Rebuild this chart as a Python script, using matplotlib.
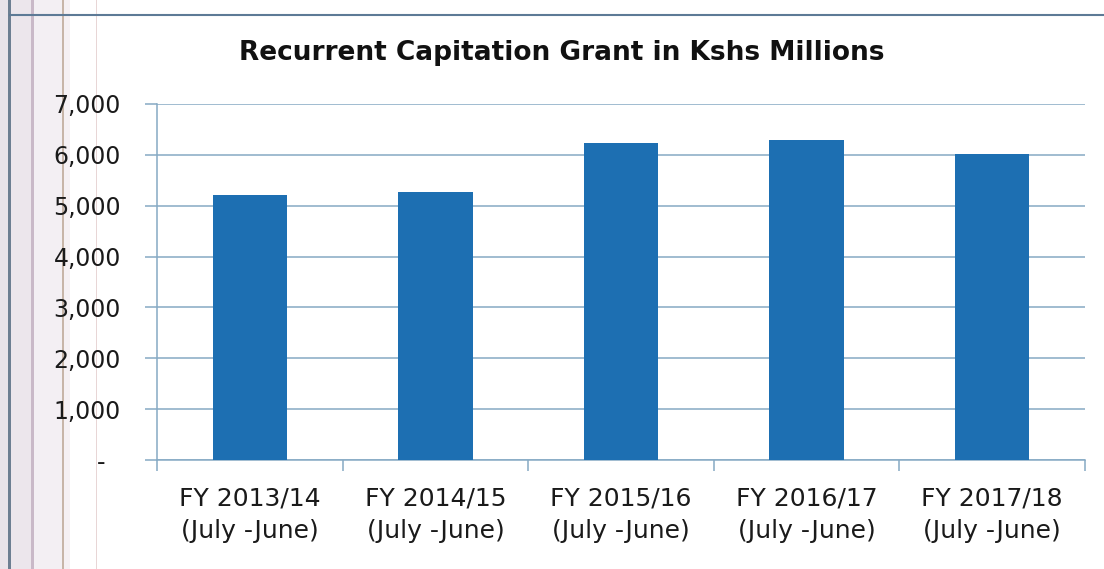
import matplotlib
matplotlib.use("Agg")
import matplotlib.pyplot as plt
from matplotlib.patches import Rectangle
from matplotlib.lines import Line2D

categories = ["FY 2013/14\n(July -June)", "FY 2014/15\n(July -June)", "FY 2015/16\n(July -June)",
              "FY 2016/17\n(July -June)", "FY 2017/18\n(July -June)"]
values = [5210, 5265, 6240, 6290, 6010]
yticks = [0, 1000, 2000, 3000, 4000, 5000, 6000, 7000]
ytick_labels = ["-  ", "1,000", "2,000", "3,000", "4,000", "5,000", "6,000", "7,000"]
title = "Recurrent Capitation Grant in Kshs Millions"

W, H = 1104, 569
fig = plt.figure(figsize=(W / 100, H / 100), dpi=100)
fig.patch.set_facecolor("white")

def fx(x):
    return x / W

def fy(y):
    return 1 - y / H

# scan artifacts: light vertical stripes on the left
for x0, w, c in [(0, 8, "#e9e4ea"), (8, 3, "#6d7f92"), (11, 20, "#ece6ec"), (31, 3, "#c9b9c8"),
                 (34, 30, "#f3eff3"), (62, 2, "#c7b5a8"), (64, 6, "#f5f0f3"), (96, 1, "#e8d6d6")]:
    fig.add_artist(Rectangle((fx(x0), 0), w / W, 1, transform=fig.transFigure,
                             facecolor=c, edgecolor="none", zorder=0))
# chart area border
fig.add_artist(Line2D([fx(10), 1], [fy(15), fy(15)], transform=fig.transFigure,
                      color="#5d7a96", lw=1.5))

ax = fig.add_axes([fx(157), fy(460), fx(1085) - fx(157), fy(104) - fy(460)])
x = list(range(len(categories)))
ax.bar(x, values, width=0.4, color="#1d6fb2", zorder=3)
ax.set_xlim(-0.5, len(categories) - 0.5)
ax.set_ylim(0, 7000)

grid_c = "#86aac4"
ax.set_yticks(yticks)
ax.set_yticklabels(ytick_labels)
ax.yaxis.grid(True, color=grid_c, lw=1.1, zorder=0)
ax.set_xticks([i - 0.5 for i in range(len(categories) + 1)])
ax.set_xticklabels([])
ax.set_xticks(x, minor=True)
ax.set_xticklabels(categories, minor=True, linespacing=1.45)
ax.tick_params(axis="x", which="minor", length=0, pad=19, labelsize=18, labelcolor="#1a1a1a")
ax.tick_params(axis="x", which="major", length=8, color=grid_c, width=1.1)
ax.tick_params(axis="y", length=9, color=grid_c, width=1.1, pad=17, labelsize=17,
               labelcolor="#1a1a1a")
for lab in ax.get_xticklabels(minor=True) + ax.get_yticklabels():
    lab.set_fontfamily("DejaVu Sans")
for s in ["top", "right"]:
    ax.spines[s].set_visible(False)
for s in ["left", "bottom"]:
    ax.spines[s].set_color(grid_c)
    ax.spines[s].set_linewidth(1.1)

fig.text(fx(562), fy(53), title, ha="center", va="center", fontsize=19,
         fontweight="bold", family="DejaVu Sans", color="#111111")

fig.savefig("out.png", dpi=100)
